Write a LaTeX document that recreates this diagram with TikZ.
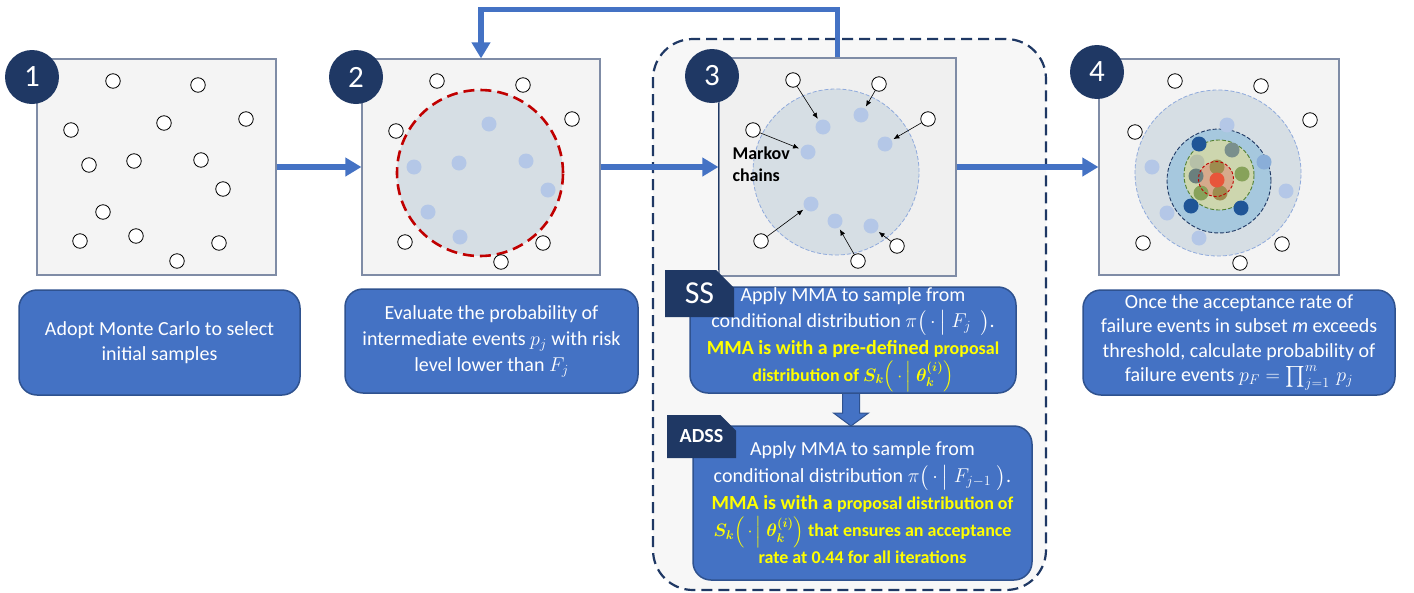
\RequirePackage{fix-cm}
\documentclass[tikz,border=0pt]{standalone}
\usepackage{amsmath,bm}
\usepackage{fontspec}
\setmainfont{Carlito}
\usetikzlibrary{arrows.meta,shapes.misc,calc}

\definecolor{navy}{HTML}{1F3864}
\definecolor{flowblue}{HTML}{4472C4}
\definecolor{boxedge}{HTML}{2F528F}
\definecolor{panelfill}{HTML}{F4F4F4}
\definecolor{panelline}{HTML}{7F8CA6}
\definecolor{regionfill}{HTML}{D6DEE4}
\definecolor{regionline}{HTML}{8FAADC}
\definecolor{seedblue}{HTML}{B4C7E7}
\definecolor{failred}{HTML}{C00000}
\definecolor{groupfill}{HTML}{F7F7F7}
\definecolor{yel}{HTML}{FFFF00}
\definecolor{midring}{HTML}{A6C8DE}
\definecolor{greenring}{HTML}{CDD6AE}
\definecolor{greenline}{HTML}{548235}
\definecolor{redring}{HTML}{D6AA8C}
\definecolor{core}{HTML}{E8553A}
\definecolor{deepblue}{HTML}{1F5597}
\definecolor{tealgray}{HTML}{7A8F8C}
\definecolor{lightgray}{HTML}{B6C0A8}
\definecolor{darkteal}{HTML}{6A7F7D}
\definecolor{leaf}{HTML}{87A25A}
\definecolor{olive}{HTML}{9D8C4E}
\definecolor{midblue}{HTML}{8AAED8}

\tikzset{
  panel/.style={draw=panelline, fill=panelfill, line width=1.2pt, inner sep=0pt},
  badge/.style={circle, fill=navy, text=white, minimum size=54pt, inner sep=0pt,
    font=\fontsize{31}{36}\selectfont},
  sample/.style={circle, draw=black, fill=white, minimum size=14.5pt, inner sep=0pt, line width=0.8pt},
  seed/.style={circle, fill=seedblue, minimum size=15pt, inner sep=0pt},
  seedpt/.style={circle, fill=#1, minimum size=15pt, inner sep=0pt},
  region/.style={circle, fill=regionfill, inner sep=0pt},
  flow/.style={line width=5.5pt, draw=flowblue, -{Triangle[length=16pt,width=18pt]}},
  chain/.style={line width=0.6pt, -{Latex[length=6pt,width=5pt]}, shorten >=2pt},
  textbox/.style={rounded corners=18pt, fill=flowblue, draw=boxedge, line width=1.5pt,
    text=white, align=center, inner sep=0pt},
  tab/.style={chamfered rectangle, chamfered rectangle corners=north east,
    chamfered rectangle sep=9pt, fill=navy, text=white, inner sep=0pt,
    minimum width=69pt},
}

\begin{document}
\begin{tikzpicture}[x=1pt,y=-1pt]
\useasboundingbox (0,0) rectangle (1414,592);
\fill[white] (0,0) rectangle (1414,592);

% dashed group around step 3 and the two sampling variants
\node[draw=navy, fill=groupfill, line width=2.2pt, dash pattern=on 11pt off 6pt,
  rounded corners=40pt, minimum width=393pt, minimum height=551pt, inner sep=0pt]
  (grp) at (849.5,314.5) {};

% four sample panels
\node[panel, minimum width=239pt, minimum height=216pt] (p1) at (156.5,167) {};
\node[panel, minimum width=238pt, minimum height=216pt] (p2) at (481,167) {};
\node[panel, fill=black!6, minimum width=237pt, minimum height=218pt] (p3) at (837.5,167) {};
\node[panel, minimum width=240pt, minimum height=216pt] (p4) at (1219,167) {};

% feedback loop from step 3 back to step 2
\draw[flow] (p3.north) -- ++(0,-48) -| (p2.north);

% panel 1: Monte Carlo samples
\foreach \p in {(113,81),(198,85),(71,130),(164,123),(246,119),(89,165),(134,161),
  (201,160),(223,189),(103,212),(80,241),(136,236),(219,243),(177,261)}
  \node[sample] at \p {};

% panel 2: intermediate failure region
\node[region, minimum size=166pt, draw=failred, line width=2.6pt,
  dash pattern=on 11pt off 6pt] (c2) at (480,173) {};
\foreach \p in {(489,124),(459,163),(526,161),(414,167),(548,190),(428,212),(460,237)}
  \node[seed] at \p {};
\foreach \p in {(437,81),(523,85),(396,131),(572,119),(405,242),(543,243),(501,262)}
  \node[sample] at \p {};

% panel 3: Markov chains moving samples into the region
\node[region, minimum size=166pt, draw=regionline, line width=0.8pt,
  dash pattern=on 4pt off 2pt] (c3) at (836,172) {};
\node[seed] (s1) at (823,127) {};
\node[seed] (s2) at (861,115) {};
\node[seed] (s3) at (808,152) {};
\node[seed] (s4) at (885,144) {};
\node[seed] (s5) at (811,204) {};
\node[seed] (s6) at (835,221) {};
\node[seed] (s7) at (871,226) {};
\node[sample] (w1) at (793,80) {};
\node[sample] (w2) at (879,84) {};
\node[sample] (w3) at (753,130) {};
\node[sample] (w4) at (928,119) {};
\node[sample] (w5) at (761,241) {};
\node[sample] (w6) at (858,261) {};
\node[sample] (w7) at (897,246) {};
\foreach \i in {1,...,7} \draw[chain] (w\i) -- (s\i);
\node[anchor=west, align=left, font=\bfseries\fontsize{18}{22}\selectfont] (mk) at (729,164) {Markov\\chains};

% panel 4: nested subsets converging to the failure domain
\node[region, minimum size=166pt, draw=regionline, line width=0.8pt,
  dash pattern=on 4pt off 2pt] (c4a) at (1218,173) {};
\node[circle, fill=midring, draw=navy, line width=0.9pt, dash pattern=on 4pt off 2pt,
  minimum size=104pt, inner sep=0pt] (c4b) at (1219,181) {};
\node[circle, fill=greenring, draw=greenline, line width=0.9pt, dash pattern=on 4pt off 2pt,
  minimum size=70pt, inner sep=0pt] (c4c) at (1219,175) {};
\node[circle, fill=redring, minimum size=35pt, inner sep=0pt] (c4d) at (1216,179) {};
\foreach \p/\c in {(1227,125)/seedblue,(1152,167)/seedblue,(1167,213)/seedblue,
  (1199,238)/seedblue,(1286,191)/seedblue,(1264,162)/midblue,
  (1199,144)/deepblue,(1191,206)/deepblue,(1241,208)/deepblue,
  (1232,150)/tealgray,(1197,162)/lightgray,(1196,176)/darkteal,(1242,174)/leaf,
  (1201,193)/leaf,(1217,167)/olive,(1220,193)/olive}
  \node[seedpt=\c] at \p {};
\node[circle, draw=failred, line width=0.9pt, dash pattern=on 3pt off 2pt,
  minimum size=35pt, inner sep=0pt] (c4e) at (1216,179) {};
\node[seedpt=core] (c4f) at (1217,180) {};
\foreach \p in {(1175,81),(1261,86),(1135,132),(1310,120),(1143,243),(1282,244),(1240,263)}
  \node[sample] at \p {};

% step badges
\node[badge] (b1) at (32,77) {1};
\node[badge] (b2) at (356,77) {2};
\node[badge] (b3) at (712,76) {3};
\node[badge] (b4) at (1097,72) {4};

% forward flow between panels
\draw[flow] (p1.east) -- (p2.west);
\draw[flow] (p2.east) -- (p3.west);
\draw[flow] (p3.east) -- (p4.west);

% description boxes
\node[textbox, minimum width=281pt, minimum height=105pt,
  font=\fontsize{20}{24.5}\selectfont] (t1) at (159.5,342.5)
  {Adopt Monte Carlo to select\\initial samples};
\node[textbox, minimum width=293pt, minimum height=104pt,
  font=\fontsize{20}{26}\selectfont] (t2) at (491.5,341)
  {Evaluate the probability of\\intermediate events $p_j$ with risk\\level lower than $F_j$};
\node[textbox, minimum width=312pt, minimum height=105pt,
  font=\fontsize{20}{24.4}\selectfont] (t4) at (1239,342.5)
  {Once the acceptance rate of\\failure events in subset \textit{m} exceeds\\threshold, calculate probability of\\failure events $p_F=\prod_{j=1}^{m}\,p_j$};

% block arrow from SS to ADSS
\filldraw[fill=flowblue, draw=boxedge, line width=1pt]
  (842.5,393) -- (859.5,393) -- (859.5,413) -- (868.5,413) -- (851,426)
  -- (833.5,413) -- (842.5,413) -- cycle;

\node[textbox, minimum width=326pt, minimum height=106pt,
  font=\fontsize{20}{26.7}\selectfont] (ss) at (853,340)
  {Apply MMA to sample from\\
   conditional distribution $\pi\bigl(\,\cdot\,\big|\;F_j\;\,\bigr)$.\\
   {\color{yel}\bfseries MMA is with a pre-defined {\fontsize{18}{20}\selectfont proposal}}\\
   {\color{yel}\bfseries\fontsize{18}{20}\selectfont distribution of
    $\bm{S_k}\Bigl(\,\cdot\,\Big|\;\bm{\theta_k^{(i)}}\Bigr)$}};
\node[textbox, minimum width=339pt, minimum height=154pt,
  font=\fontsize{20}{27}\selectfont] (adss) at (862.5,503)
  {Apply MMA to sample from\\
   conditional distribution $\pi\bigl(\,\cdot\,\big|\;F_{j-1}\;\bigr)$.\\
   {\color{yel}\bfseries MMA is with a {\fontsize{18}{20}\selectfont proposal distribution of}}\\
   {\color{yel}\bfseries\fontsize{18}{20}\selectfont $\bm{S_k}\Bigl(\,\cdot\,\Big|\;\bm{\theta_k^{(i)}}\Bigr)$ that ensures an acceptance}\\
   {\color{yel}\bfseries\fontsize{18}{20}\selectfont rate at 0.44 for all iterations}};

% method tabs
\node[tab, minimum height=47pt, font=\fontsize{32}{36}\selectfont] (sstab) at (699.5,293.5) {SS};
\node[tab, minimum height=43pt, font=\bfseries\fontsize{20}{24}\selectfont] (adsstab) at (701.5,436.5) {ADSS};

% link from badge 3 down to the SS tab
\draw[navy, line width=0.9pt] (p3.west |- b3.south) -- (p3.west |- sstab.north);
\end{tikzpicture}
\end{document}
